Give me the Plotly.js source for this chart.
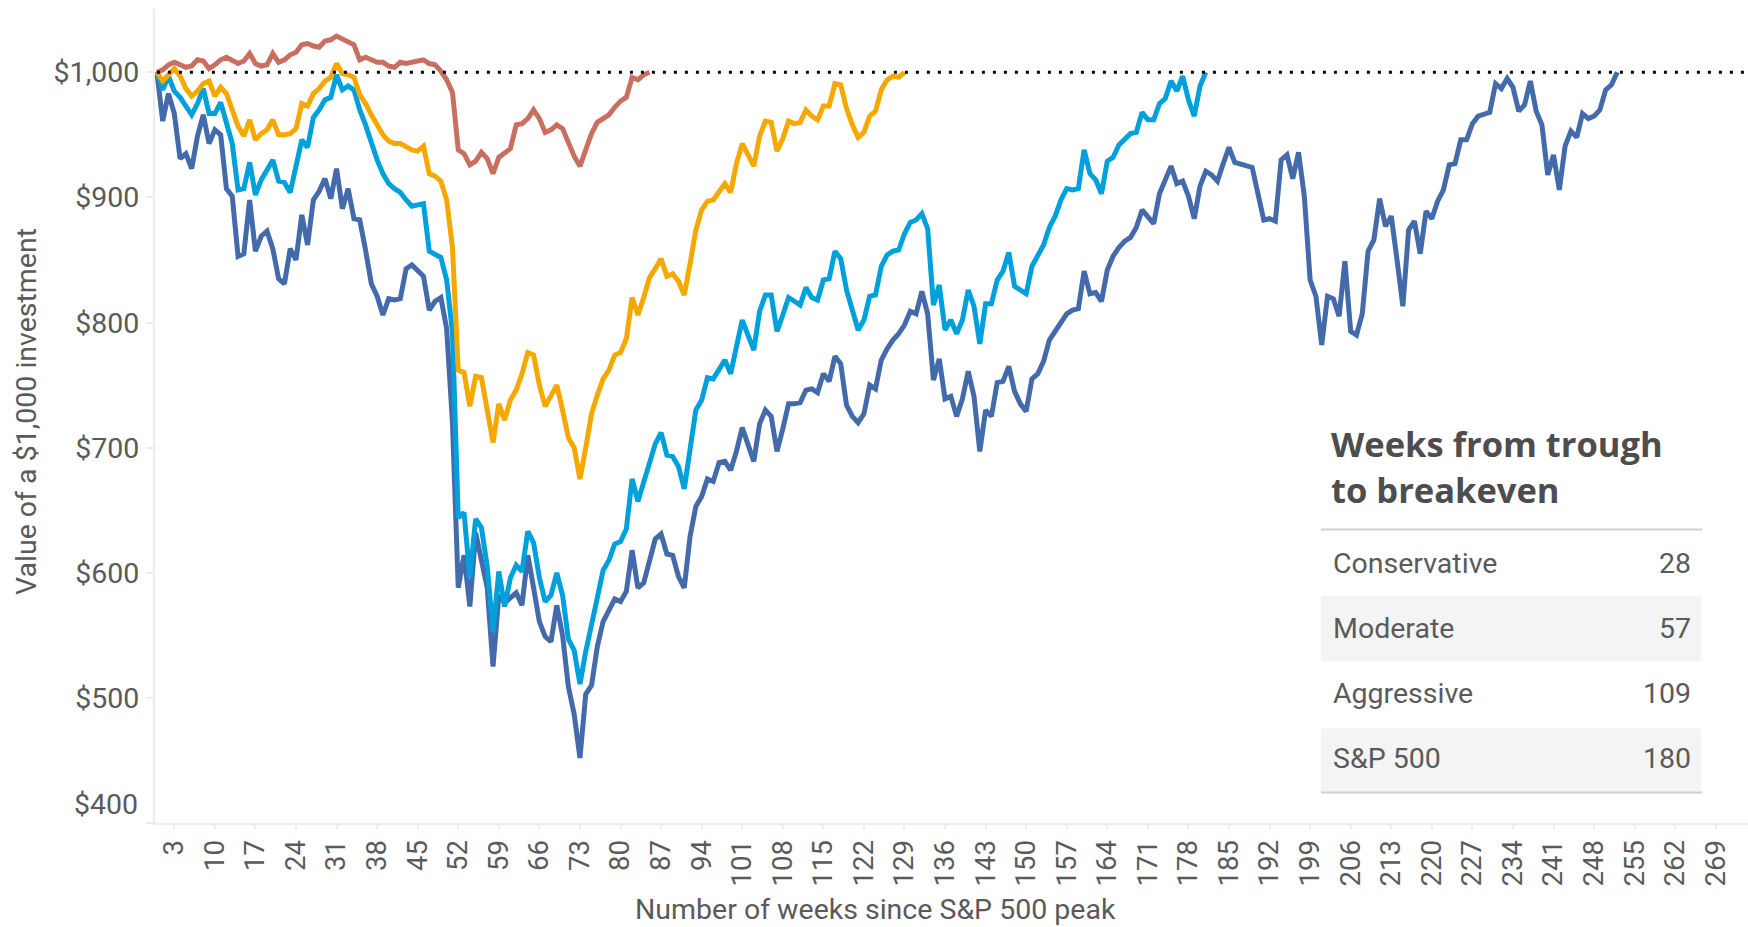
<!DOCTYPE html>
<html><head><meta charset="utf-8">
<script src="https://cdn.plot.ly/plotly-3.0.1.min.js"></script>
<style>html,body{margin:0;padding:0;background:#fff;} #chart{width:1748px;height:927px;}</style>
</head><body><div id="chart"></div>
<script>
// ---- DATA (value of a $1,000 investment, weekly, week 0 = S&P 500 peak) ----
const conservative = [1000,1002,1006,1008,1006,1004,1005,1010,1009,1003,
1006,1010,1012,1010,1007,1009,1015,1007,1005,1006,
1015,1008,1010,1014,1016,1022,1023,1021,1020,1025,
1026,1029,1027,1024,1022,1010,1012,1010,1008,1008,
1005,1004,1008,1007,1008,1008,1010,1007,1006,1001,
994,984,938,935,926,929,936,931,919,932,
935,939,958,959,963,970,963,952,954,958,
955,943,933,925,937,951,960,963,966,972,
977,980,996,994,998,1000];

const moderate = [1000,993,998,1003,997,987,981,985,991,993,
981,988,983,971,957,949,962,946,951,954,
962,950,950,951,955,975,973,983,987,993,
996,1007,999,998,996,982,975,966,957,950,
945,943,943,940,938,937,941,919,917,913,
898,860,762,760,733,757,756,730,704,735,
722,738,746,759,776,774,750,733,742,750,
730,708,700,675,700,727,742,755,762,774,
776,787,820,806,820,836,843,851,837,839,
833,822,847,874,890,897,898,905,911,904,
927,943,933,925,949,961,960,937,947,961,
959,960,970,965,962,973,973,991,990,971,
958,948,952,965,969,986,994,997,996,1000];

const aggressive = [1000,986,997,985,980,972,966,975,987,967,
967,976,960,943,906,907,928,902,914,922,
930,913,912,904,924,946,940,964,970,978,
980,998,986,989,986,970,958,943,930,919,
911,907,904,898,893,894,895,857,854,852,
834,792,644,648,596,643,636,605,553,601,
573,596,606,601,633,624,596,577,582,600,
582,547,538,511,537,557,580,602,610,623,
625,635,675,657,673,690,703,712,694,693,
685,667,701,730,738,756,755,763,770,759,
783,802,790,778,809,822,822,793,806,820,
817,814,828,820,818,834,835,857,851,826,
810,794,802,821,822,845,854,857,858,871,
880,882,887,875,814,830,794,802,791,802,
826,813,783,815,815,834,841,856,829,826,
823,845,853,862,876,885,898,907,906,907,
938,919,914,903,929,932,942,946,951,952,
968,962,962,975,979,993,985,997,978,965,
989,1000];

const sp500 = [1000,961,983,967,931,935,923,949,966,943,
954,950,907,901,853,855,898,857,869,873,
859,835,831,859,850,886,862,898,905,915,
899,923,891,907,883,882,858,831,821,806,
819,818,819,843,846,842,837,810,817,820,
795,720,588,614,573,632,612,588,525,582,
576,580,584,574,614,588,561,549,545,574,
550,509,487,452,503,510,541,561,570,579,
577,585,618,588,592,610,627,631,615,614,
597,588,629,653,661,675,673,688,689,682,
697,716,702,689,719,730,725,697,715,735,
735,736,746,747,744,759,753,773,767,734,
725,720,727,750,747,770,779,786,791,798,
809,807,825,807,754,771,739,741,725,739,
761,741,697,730,725,752,753,765,745,735,
729,755,759,769,786,793,799,807,810,811,
841,823,824,817,842,853,860,865,868,876,
890,884,879,903,915,925,911,913,901,883,
909,921,918,913,927,940,928,927,925,924,
903,882,883,881,930,934,915,936,901,834,
821,782,821,819,805,849,793,790,807,857,
866,899,877,885,850,813,874,881,855,889,
883,897,906,926,927,946,946,959,965,967,
968,991,987,995,988,969,974,993,969,958,
918,934,906,941,953,948,967,963,965,970,
986,990,1000];

const seriesNames = ['S&P 500','Aggressive','Moderate','Conservative'];
const seriesColors = ['#436aab','#00a0dc','#f5a800','#c86f62'];
const xTickWeeks = [3,10,17,24,31,38,45,52,59,66,73,80,87,94,101,108,115,122,129,136,
143,150,157,164,171,178,185,192,199,206,213,220,227,234,241,248,255,262,269];
const yTickValues = [400,500,600,700,800,900,1000];
const yTickLabels = ['$400','$500','$600','$700','$800','$900','$1,000'];
const breakevenValue = 1000;
const xTitle = 'Number of weeks since S&P 500 peak';
const yTitle = 'Value of a $1,000 investment';
const tableTitle = ['Weeks from trough','to breakeven'];
const tableRows = ['Conservative','Moderate','Aggressive','S&P 500'];
const tableWeeks = [28,57,109,180];

// ---- LAYOUT HELPERS ----
const L = 155, T = 9, W = 1593, H = 814;
const px2x = px => (px - L) / W;
const py2y = py => (T + H - py) / H;
const FONT = 'Roboto, "Liberation Sans", sans-serif';
const GREY = '#5a5a5a';
const TXT = (size) => ({family:FONT, size:size, color:GREY});

const allSeries = [sp500, aggressive, moderate, conservative];
const traces = allSeries.map((vals, k) => ({
  type: 'scatter', mode: 'lines', name: seriesNames[k],
  x: vals.map((v, i) => i), y: vals,
  line: {color: seriesColors[k], width: 5, shape: 'linear'},
  hoverinfo: 'skip'
}));

const shapes = [
  {type:'line', xref:'x', yref:'y', x0:0, x1:274.56, y0:breakevenValue, y1:breakevenValue,
   line:{color:'#000', width:3, dash:'3px,8px'}, layer:'above'},
  {type:'line', xref:'paper', yref:'paper', x0:px2x(146), x1:0, y0:0, y1:0,
   line:{color:'#ececec', width:2}},
  {type:'line', xref:'paper', yref:'paper', x0:px2x(1321), x1:px2x(1702), y0:py2y(529.5), y1:py2y(529.5),
   line:{color:'#cfcfcf', width:2}},
  {type:'rect', xref:'paper', yref:'paper', x0:px2x(1321), x1:px2x(1701), y0:py2y(596), y1:py2y(661),
   fillcolor:'#f4f4f4', line:{width:0}, layer:'below'},
  {type:'rect', xref:'paper', yref:'paper', x0:px2x(1321), x1:px2x(1701), y0:py2y(728.5), y1:py2y(792),
   fillcolor:'#f4f4f4', line:{width:0}, layer:'below'},
  {type:'line', xref:'paper', yref:'paper', x0:px2x(1321), x1:px2x(1702), y0:py2y(792.5), y1:py2y(792.5),
   line:{color:'#cfcfcf', width:2}}
];

const annotations = [
  {xref:'paper', yref:'paper', x:px2x(875), y:py2y(909), text:xTitle, showarrow:false,
   xanchor:'center', yanchor:'middle', font:TXT(28.5)},
  {xref:'paper', yref:'paper', x:px2x(27), y:py2y(412), text:yTitle, showarrow:false, textangle:-90,
   xanchor:'center', yanchor:'middle', font:TXT(28.5)},
  {xref:'paper', yref:'paper', x:0, xshift:-15, y:py2y(804), text:yTickLabels[0], showarrow:false,
   xanchor:'right', yanchor:'middle', font:TXT(28.5)},
  {xref:'paper', yref:'paper', x:px2x(1329), y:py2y(444), text:'<b>'+tableTitle[0]+'</b>', showarrow:false,
   xanchor:'left', yanchor:'middle', font:{family:'"Open Sans", sans-serif', size:34.5, color:'#4d4d4d'}},
  {xref:'paper', yref:'paper', x:px2x(1329), y:py2y(490), text:'<b>'+tableTitle[1]+'</b>', showarrow:false,
   xanchor:'left', yanchor:'middle', font:{family:'"Open Sans", sans-serif', size:34.5, color:'#4d4d4d'}}
];
const rowCenters = [563, 628.5, 693.5, 758.5];
tableRows.forEach((name, i) => {
  annotations.push({xref:'paper', yref:'paper', x:px2x(1331), y:py2y(rowCenters[i]), text:name, showarrow:false,
    xanchor:'left', yanchor:'middle', font:TXT(28.5)});
  annotations.push({xref:'paper', yref:'paper', x:px2x(1693), y:py2y(rowCenters[i]), text:String(tableWeeks[i]), showarrow:false,
    xanchor:'right', yanchor:'middle', font:TXT(28.5)});
});

const layout = {
  width:1748, height:927,
  margin:{l:L, r:0, t:T, b:927 - T - H, pad:0},
  paper_bgcolor:'#fff', plot_bgcolor:'#fff',
  showlegend:false, hovermode:false,
  xaxis:{range:[-0.33, 274.56], tickmode:'array', tickvals:xTickWeeks, ticktext:xTickWeeks.map(String),
    tickangle:-90, tickfont:TXT(27.5),
    showline:true, linecolor:'#ececec', linewidth:2, ticks:'outside', ticklen:4, tickcolor:'#ececec', tickwidth:2,
    showgrid:false, zeroline:false, fixedrange:true},
  yaxis:{range:[400, 1050.6], tickmode:'array', tickvals:yTickValues, ticktext:yTickLabels.map((t,i)=> i===0 ? '' : t),
    tickfont:TXT(28.5),
    showline:true, linecolor:'#ececec', linewidth:2, ticks:'outside', ticklen:7, tickcolor:'#ececec', tickwidth:2,
    ticklabelstandoff:1, showgrid:false, zeroline:false, fixedrange:true},
  shapes:shapes, annotations:annotations
};

Plotly.newPlot('chart', traces, layout, {staticPlot:true, displayModeBar:false});
</script>
</body></html>
